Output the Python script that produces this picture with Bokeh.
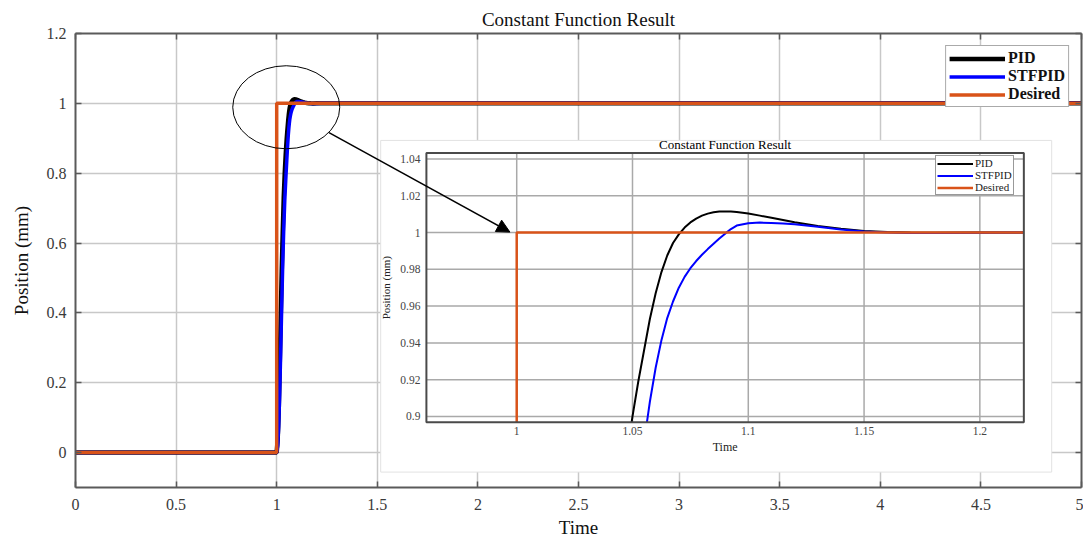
import math
import numpy as np
from bokeh.plotting import figure
from bokeh.models import (Range1d, FixedTicker, LinearAxis, Legend, LegendItem,
                          Arrow, NormalHead)
from bokeh.core.properties import value
from bokeh.embed import file_html
from bokeh.resources import INLINE

# ---------------- data ----------------
time = [0.0, 1.0, 1.005, 1.01, 1.015, 1.02, 1.025, 1.03, 1.035, 1.04, 1.045,
        1.0475, 1.05, 1.0525, 1.055, 1.0575, 1.06, 1.0625, 1.065, 1.0675, 1.07,
        1.0725, 1.075, 1.0775, 1.08, 1.0825, 1.085, 1.0875, 1.09, 1.0925, 1.095,
        1.1, 1.105, 1.11, 1.115, 1.12, 1.13, 1.14, 1.15, 1.16, 1.17, 1.18, 1.2,
        1.22, 5.0]
pid = [0.0, 0.0, 0.04, 0.12, 0.25, 0.39, 0.52, 0.63, 0.73, 0.80, 0.855,
       0.879, 0.900, 0.919, 0.936, 0.953, 0.967, 0.9785, 0.9875, 0.9943, 0.9990,
       1.0027, 1.0055, 1.0076, 1.0092, 1.0103, 1.0110, 1.0114, 1.0115, 1.0114, 1.0112,
       1.0103, 1.0092, 1.0080, 1.0068, 1.0056, 1.0036, 1.0020, 1.0009, 1.0003, 1.0000, 0.9999, 1.0,
       1.0, 1.0]
stfpid = [0.0, 0.0, 0.02, 0.075, 0.17, 0.29, 0.42, 0.54, 0.64, 0.72, 0.78,
          0.808, 0.835, 0.862, 0.886, 0.908, 0.9265, 0.9415, 0.9535, 0.9625, 0.9700,
          0.9759, 0.9806, 0.9845, 0.9879, 0.9910, 0.9939, 0.9967, 0.9994, 1.0019, 1.0038,
          1.0051, 1.0054, 1.0052, 1.0049, 1.0045, 1.0031, 1.0016, 1.0006, 1.0000, 0.9997, 0.9997, 0.9999,
          1.0, 1.0]
desired_t = [0.0, 1.0, 1.0, 5.0]
desired = [0.0, 0.0, 1.0, 1.0]

x_ticks = [0, 0.5, 1, 1.5, 2, 2.5, 3, 3.5, 4, 4.5, 5]
x_tick_labels = ["0", "0.5", "1", "1.5", "2", "2.5", "3", "3.5", "4", "4.5", "5"]
y_ticks = [0, 0.2, 0.4, 0.6, 0.8, 1.0, 1.2]
y_tick_labels = ["0", "0.2", "0.4", "0.6", "0.8", "1", "1.2"]

inset_x_ticks = [1.0, 1.05, 1.1, 1.15, 1.2]
inset_x_tick_labels = ["1", "1.05", "1.1", "1.15", "1.2"]
inset_y_ticks = [0.9, 0.92, 0.94, 0.96, 0.98, 1.0, 1.02, 1.04]
inset_y_tick_labels = ["0.9", "0.92", "0.94", "0.96", "0.98", "1", "1.02", "1.04"]

series_names = ["PID", "STFPID", "Desired"]

# ---------------- style / layout constants ----------------
SERIF = "Liberation Serif"
C_PID, C_STF, C_DES = "#000000", "#0000ff", "#d95319"
X_RANGE = (0, 5)
Y_RANGE = (-0.1, 1.2)
INSET_X = (0.961, 1.219)
INSET_Y = (0.8968, 1.0432)

# reference pixel geometry of the main axes -> data coordinates
REF_X0, REF_X1 = 75.0, 1087.0     # px of x=0 and x=5
REF_Y0, REF_Y1 = 463.0, 105.0     # px of y=0 and y=1


def dx(px):
    return (px - REF_X0) / (REF_X1 - REF_X0) * (X_RANGE[1] - X_RANGE[0])


def dy(py):
    return (REF_Y0 - py) / (REF_Y0 - REF_Y1)


# ---------------- clipping helper for the inset ----------------
def clip_polyline(xs, ys, x0, x1, y0, y1):
    ox, oy = [], []
    last = None
    for i in range(len(xs) - 1):
        ax, ay, bx, by = xs[i], ys[i], xs[i + 1], ys[i + 1]
        ddx, ddy = bx - ax, by - ay
        u0, u1 = 0.0, 1.0
        ok = True
        for pp, qq in ((-ddx, ax - x0), (ddx, x1 - ax), (-ddy, ay - y0), (ddy, y1 - ay)):
            if pp == 0:
                if qq < 0:
                    ok = False
                    break
            else:
                t = qq / pp
                if pp < 0:
                    u0 = max(u0, t)
                else:
                    u1 = min(u1, t)
        if not ok or u0 > u1:
            continue
        sx, sy = ax + u0 * ddx, ay + u0 * ddy
        ex, ey = ax + u1 * ddx, ay + u1 * ddy
        if last is not None and abs(last[0] - sx) < 1e-12 and abs(last[1] - sy) < 1e-12:
            ox.append(ex)
            oy.append(ey)
        else:
            if ox:
                ox.append(np.nan)
                oy.append(np.nan)
            ox += [sx, ex]
            oy += [sy, ey]
        last = (ex, ey)
    return np.array(ox, dtype=float), np.array(oy, dtype=float)


# ---------------- main figure ----------------
p = figure(width=1083, height=540, x_range=X_RANGE, y_range=Y_RANGE,
           output_backend="svg", toolbar_location=None,
           min_border_left=75, min_border_right=2, min_border_top=33, min_border_bottom=50,
           title="Constant Function Result")
p.title.align = "center"
p.title.text_font = SERIF
p.title.text_font_size = "19px"
p.title.text_font_style = "normal"
p.title.text_color = "#111111"
p.title.standoff = 7
p.outline_line_color = None
p.background_fill_color = "white"
p.border_fill_color = "white"

ax_color = "#5a5a5a"
for ax in (p.xaxis[0], p.yaxis[0]):
    ax.axis_line_color = ax_color
    ax.axis_line_width = 2
    ax.major_tick_in = 6
    ax.major_tick_out = 0
    ax.major_tick_line_color = ax_color
    ax.major_tick_line_width = 1.5
    ax.minor_tick_line_color = None
    ax.major_label_text_font = SERIF
    ax.major_label_text_font_size = "16px"
    ax.major_label_text_color = "#3a3a3a"
    ax.axis_label_text_font = SERIF
    ax.axis_label_text_font_size = "19px"
    ax.axis_label_text_font_style = "normal"
    ax.axis_label_text_color = "#111111"

p.xaxis[0].ticker = FixedTicker(ticks=x_ticks)
p.xaxis[0].major_label_overrides = dict(zip(x_ticks, x_tick_labels))
p.yaxis[0].ticker = FixedTicker(ticks=y_ticks)
p.yaxis[0].major_label_overrides = dict(zip(y_ticks, y_tick_labels))
p.xaxis[0].axis_label = "Time"
p.yaxis[0].axis_label = "Position (mm)"
p.xaxis[0].major_label_standoff = 11
p.xaxis[0].axis_label_standoff = 4
p.yaxis[0].major_label_standoff = 9
p.yaxis[0].axis_label_standoff = 12

for loc, ticks in (("right", y_ticks), ("above", x_ticks)):
    a = LinearAxis(ticker=FixedTicker(ticks=ticks), major_label_text_font_size="0px",
                   major_label_text_alpha=0, major_label_standoff=0,
                   axis_line_color=ax_color, axis_line_width=2,
                   major_tick_in=6, major_tick_out=0, major_tick_line_color=ax_color,
                   major_tick_line_width=1.5, minor_tick_line_color=None)
    p.add_layout(a, loc)

p.xgrid[0].ticker = FixedTicker(ticks=x_ticks)
p.ygrid[0].ticker = FixedTicker(ticks=y_ticks)
p.grid.grid_line_color = "#c8c8c8"
p.grid.grid_line_width = 1.5

r_pid = p.line(time, pid, line_color=C_PID, line_width=4.5)
r_stf = p.line(time, stfpid, line_color=C_STF, line_width=3.5)
r_des = p.line(desired_t, desired, line_color=C_DES, line_width=3.5)

leg = Legend(items=[LegendItem(label=n, renderers=[r]) for n, r in
                    zip(series_names, [r_pid, r_stf, r_des])],
             location="top_right", margin=12,
             label_text_font=SERIF, label_text_font_style="bold",
             label_text_font_size="16px", label_text_color="#111111",
             glyph_width=56, glyph_height=17, label_height=17, spacing=0,
             padding=3, label_standoff=3,
             border_line_color="#555555", border_line_width=1.5,
             background_fill_color="white", background_fill_alpha=1)
p.add_layout(leg)

# zoom marker ellipse
p.ellipse(x=[dx(287)], y=[dy(109)], width=107, height=83,
          width_units="screen", height_units="screen",
          fill_color=None, line_color="black", line_width=1)

# ---------------- inset (white panel + sub-coordinates) ----------------
p.quad(left=[dx(382)], right=[dx(1057)], bottom=[dy(483)], top=[dy(143)],
       fill_color="white", line_color="#e2e2e2", line_width=1)

ix0, ix1 = INSET_X
iy0, iy1 = INSET_Y
sub = p.subplot(x_source=Range1d(ix0, ix1), y_source=Range1d(iy0, iy1),
                x_target=Range1d(dx(428), dx(1029)), y_target=Range1d(dy(432), dy(156)))

gcol = "#a9a9a9"
sub.segment(x0=inset_x_ticks, y0=[iy0] * len(inset_x_ticks),
            x1=inset_x_ticks, y1=[iy1] * len(inset_x_ticks),
            line_color=gcol, line_width=1.5)
sub.segment(x0=[ix0] * len(inset_y_ticks), y0=inset_y_ticks,
            x1=[ix1] * len(inset_y_ticks), y1=inset_y_ticks,
            line_color=gcol, line_width=1.5)

cx, cy = clip_polyline(time, pid, ix0, ix1, iy0, iy1)
s_pid = sub.line(cx, cy, line_color=C_PID, line_width=2)
cx, cy = clip_polyline(time, stfpid, ix0, ix1, iy0, iy1)
s_stf = sub.line(cx, cy, line_color=C_STF, line_width=2)
cx, cy = clip_polyline(desired_t, desired, ix0, ix1, iy0, iy1)
s_des = sub.line(cx, cy, line_color=C_DES, line_width=2.5)

sub.quad(left=[ix0], right=[ix1], bottom=[iy0], top=[iy1],
         fill_color=None, line_color="#4a4a4a", line_width=2)

sub.text(x=inset_x_ticks, y=[iy0] * len(inset_x_ticks), text=inset_x_tick_labels,
         text_align="center", text_baseline="top", y_offset=5,
         text_font=value(SERIF), text_font_size="11.5px", text_color="#444444")
sub.text(x=[ix0] * len(inset_y_ticks), y=inset_y_ticks, text=inset_y_tick_labels,
         text_align="right", text_baseline="middle", x_offset=-6,
         text_font=value(SERIF), text_font_size="11.5px", text_color="#444444")
sub.text(x=[(ix0 + ix1) / 2], y=[iy0], text=["Time"],
         text_align="center", text_baseline="top", y_offset=18,
         text_font=value(SERIF), text_font_size="12px", text_color="#222222")
sub.text(x=[ix0], y=[(iy0 + iy1) / 2], text=["Position (mm)"], angle=math.pi / 2,
         text_align="center", text_baseline="middle", x_offset=-40,
         text_font=value(SERIF), text_font_size="11px", text_color="#222222")
sub.text(x=[(ix0 + ix1) / 2], y=[iy1], text=["Constant Function Result"],
         text_align="center", text_baseline="bottom", y_offset=-1,
         text_font=value(SERIF), text_font_size="13px", text_color="#000000")

leg2 = Legend(items=[LegendItem(label=n, renderers=[r]) for n, r in
                     zip(series_names, [s_pid, s_stf, s_des])],
              location=(860, 292), margin=0,
              label_text_font=SERIF, label_text_font_size="11px",
              label_text_color="#222222",
              glyph_width=36, glyph_height=11, label_height=11, spacing=0,
              padding=1, label_standoff=2,
              border_line_color="#333333", border_line_width=1.5,
              background_fill_color="white", background_fill_alpha=1)
p.add_layout(leg2)

# arrow from the zoom marker to the inset
p.add_layout(Arrow(end=NormalHead(size=13, fill_color="black", line_color="black"),
                   x_start=dx(330), y_start=dy(135), x_end=dx(512), y_end=dy(237),
                   line_color="black", line_width=1.5))

open("out.html", "w").write(file_html(p, INLINE))
